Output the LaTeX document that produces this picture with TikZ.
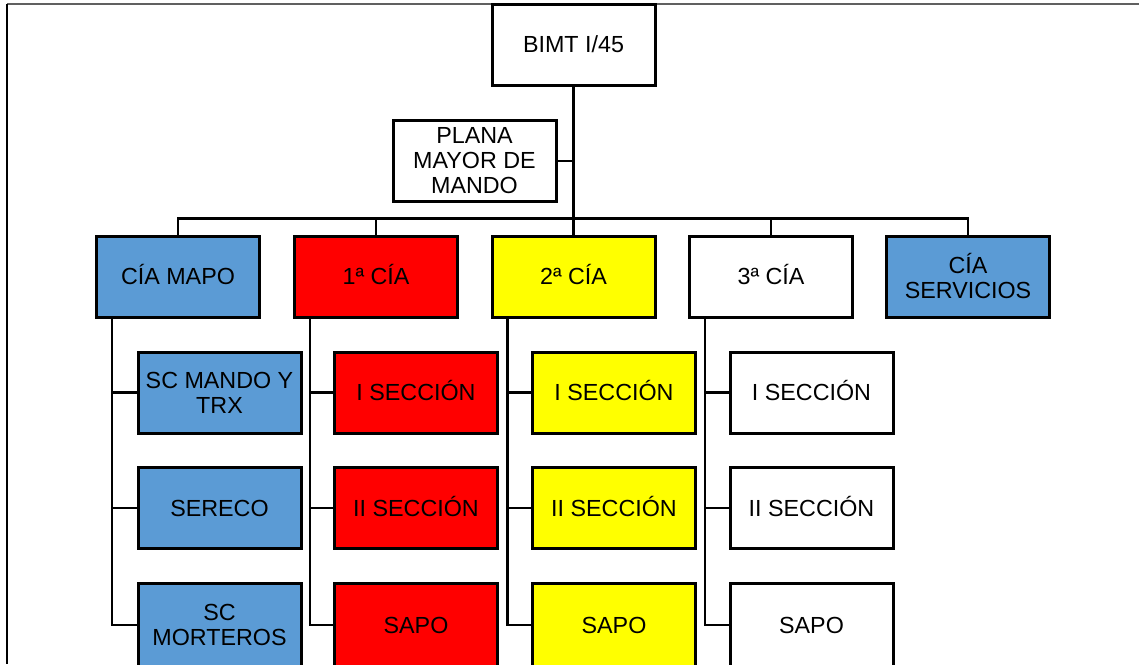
\documentclass[tikz,border=0pt]{standalone}
\usepackage{fontspec}
\setmainfont{Liberation Sans}
\definecolor{mblue}{HTML}{5B9BD5}
\definecolor{mred}{HTML}{FF0000}
\definecolor{myellow}{HTML}{FFFF00}
\definecolor{frame}{HTML}{606060}
\tikzset{
  box/.style={draw=black, line width=3pt, minimum width=163pt, minimum height=81pt,
    inner sep=2pt, align=center, font=\fontsize{23.3}{25}\selectfont},
  single/.style={text height=16.7pt, text depth=0pt},
  lastrow/.style={minimum height=84pt},
  conn/.style={line width=2.6pt, line cap=rect},
}
\begin{document}
\begin{tikzpicture}[x=1pt,y=-1pt]
\useasboundingbox (0,0) rectangle (1139,664);
\clip (0,0) rectangle (1139,664);
\fill[white] (0,0) rectangle (1139,664);
% frame lines
\draw[frame, line width=1.5pt] (7,4) -- (1139,4);
\draw[black, line width=2.2pt] (7,4) -- (7,664);

% top
\node[box, single, fill=white] (bimt) at (573.5,44.5) {BIMT I/45};
\node[box, fill=white] (plana) at (474.5,161) {PLANA\\MAYOR DE\\MANDO};

% companies
\node[box, single, fill=mblue] (mapo) at (178,276.5) {CÍA MAPO};
\node[box, single, fill=mred] (cia1) at (376,276.5) {1ª CÍA};
\node[box, single, fill=myellow] (cia2) at (573.5,276.5) {2ª CÍA};
\node[box, single, fill=white] (cia3) at (771,276.5) {3ª CÍA};
\node[box, fill=mblue] (serv) at (968,276.5) {CÍA\\SERVICIOS};

% children
\node[box, fill=mblue] (m1) at (219.5,392.5) {SC MANDO Y\\TRX};
\node[box, single, fill=mblue] (m2) at (219.5,508) {SERECO};
\node[box, lastrow, fill=mblue] (m3) at (219.5,625) {SC\\MORTEROS};

\node[box, single, fill=mred] (a1) at (416,392.5) {I SECCIÓN};
\node[box, single, fill=mred] (a2) at (416,508) {II SECCIÓN};
\node[box, single, lastrow, fill=mred] (a3) at (416,625) {SAPO};

\node[box, single, fill=myellow] (b1) at (614,392.5) {I SECCIÓN};
\node[box, single, fill=myellow] (b2) at (614,508) {II SECCIÓN};
\node[box, single, lastrow, fill=myellow] (b3) at (614,625) {SAPO};

\node[box, single, fill=white] (c1) at (811.5,392.5) {I SECCIÓN};
\node[box, single, fill=white] (c2) at (811.5,508) {II SECCIÓN};
\node[box, single, lastrow, fill=white] (c3) at (811.5,625) {SAPO};

% connectors
\coordinate (bus) at (0,218.5);
\draw[conn] (bimt.south) -- (cia2.north);
\draw[conn] (plana.east) -- (plana.east -| bimt.south);
\draw[conn] (mapo.north) -- (mapo.north |- bus) -- (serv.north |- bus) -- (serv.north);
\draw[conn] (cia1.north) -- (cia1.north |- bus);
\draw[conn] (cia3.north) -- (cia3.north |- bus);

\foreach \p/\ca/\cb/\cc in {mapo/m1/m2/m3, cia1/a1/a2/a3, cia2/b1/b2/b3, cia3/c1/c2/c3}{
  \coordinate (sp) at ([xshift=17pt]\p.south west);
  \draw[conn] (sp) |- (\cc.west);
  \draw[conn] (\ca.west) -- (\ca.west -| sp);
  \draw[conn] (\cb.west) -- (\cb.west -| sp);
}
\end{tikzpicture}
\end{document}
